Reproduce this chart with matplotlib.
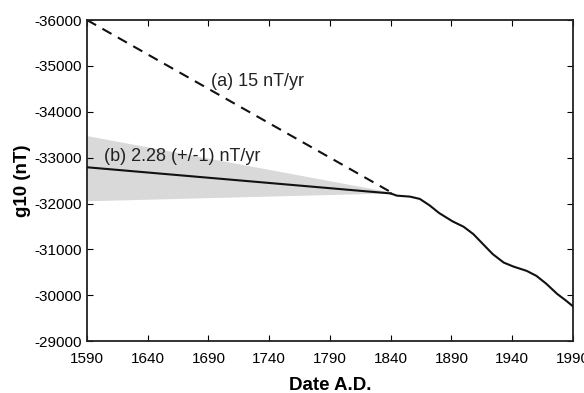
import matplotlib
matplotlib.use("Agg")
import matplotlib.pyplot as plt

plt.rcParams["font.family"] = ["Liberation Sans", "DejaVu Sans"]
plt.rcParams["axes.unicode_minus"] = False

# ---------------- data ----------------
# observed g10 (nT)
obs_years = [1840, 1845, 1856, 1864, 1872, 1880, 1891, 1900, 1908, 1916,
             1924, 1933, 1941, 1952, 1960, 1968, 1977, 1984, 1990]
obs_g10 = [-32220, -32172, -32150, -32100, -31960, -31790, -31610, -31494, -31334, -31115,
           -30897, -30713, -30626, -30531, -30422, -30253, -30030, -29890, -29760]

# extrapolations back to 1590
ext_years = [1590, 1840]
fit_a = [-36000, -32250]          # (a) 15 nT/yr
fit_b = [-32790, -32220]          # (b) 2.28 nT/yr
band_lo = [-33480, -32250]
band_hi = [-32060, -32230]

xticks = [1590, 1640, 1690, 1740, 1790, 1840, 1890, 1940, 1990]
yticks = [-36000, -35000, -34000, -33000, -32000, -31000, -30000, -29000]

# ---------------- plot ----------------
fig = plt.figure(figsize=(5.84, 3.93), dpi=100)
ax = fig.add_axes([0.149, 0.132, 0.832, 0.817])

ax.fill_between(ext_years, band_lo, band_hi, color="#d9d9d9", lw=0, zorder=1)
ax.plot(ext_years, fit_a, color="#111111", lw=1.5, ls=(0, (5, 3.5)), zorder=2)
ax.plot(ext_years, fit_b, color="#111111", lw=1.5, zorder=3)
ax.plot(obs_years, obs_g10, color="#111111", lw=1.5, zorder=3)

ax.text(1692, -34650, "(a) 15 nT/yr", fontsize=13, va="center", ha="left", color="#222222")
ax.text(1604, -33030, "(b) 2.28 (+/-1) nT/yr", fontsize=13, va="center", ha="left", color="#222222")

ax.set_xlim(1590, 1990)
ax.set_ylim(-29000, -36000)
ax.set_xticks(xticks)
ax.set_yticks(yticks)
ax.tick_params(direction="in", top=True, right=True, length=4, width=0.8,
               labelsize=11)
ax.tick_params(axis="x", pad=8)
ax.tick_params(axis="y", pad=4)
for s in ax.spines.values():
    s.set_linewidth(1.3)
    s.set_color("#222222")

ax.set_xlabel("Date A.D.", fontsize=13.5, fontweight="bold", labelpad=8)
ax.set_ylabel("g10 (nT)", fontsize=13.5, fontweight="bold", labelpad=2)

fig.savefig("out.png", dpi=100)
